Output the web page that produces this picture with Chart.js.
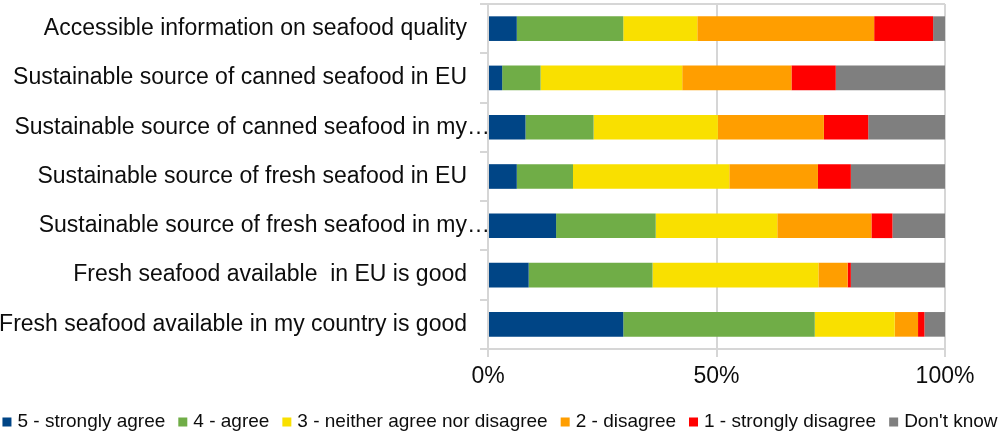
<!DOCTYPE html>
<html>
<head>
<meta charset="utf-8">
<script src="https://cdn.jsdelivr.net/npm/chart.js@4/dist/chart.umd.min.js"></script>
<style>
  html, body { margin: 0; padding: 0; background: #fff; }
  #wrap { width: 1000px; height: 441px; position: relative; }
</style>
</head>
<body>
<div id="wrap"><canvas id="c"></canvas></div>
<script>
// Survey statements (top to bottom)
const categories = [
  'Accessible information on seafood quality',
  'Sustainable source of canned seafood in EU',
  'Sustainable source of canned seafood in my…',
  'Sustainable source of fresh seafood in EU',
  'Sustainable source of fresh seafood in my…',
  'Fresh seafood available  in EU is good',
  'Fresh seafood available in my country is good'
];

// Share of answers per statement, in percent
const stronglyAgree    = [6.3, 3.1, 8.2, 6.3, 14.9, 8.9, 29.6];
const agree            = [23.3, 8.4, 14.9, 12.3, 21.8, 27.1, 41.9];
const neither          = [16.2, 31.0, 27.2, 34.2, 26.6, 36.3, 17.5];
const disagree         = [38.7, 23.9, 23.2, 19.4, 20.6, 6.4, 5.1];
const stronglyDisagree = [12.9, 9.7, 9.7, 7.2, 4.6, 0.7, 1.4];
const dontKnow         = [2.6, 23.9, 16.8, 20.6, 11.5, 20.6, 4.5];

const seriesNames = [
  '5 - strongly agree',
  '4 - agree',
  '3 - neither agree nor disagree',
  '2 - disagree',
  '1 - strongly disagree',
  "Don't know"
];
const xTicks = [0, 50, 100];

const colors = ['#004586', '#70ad47', '#f9e000', '#ff9e00', '#ff0000', '#7f7f7f'];
const seriesValues = [stronglyAgree, agree, neither, disagree, stronglyDisagree, dontKnow];

const FONT = '"Liberation Sans", Arial, sans-serif';
const TEXT = '#0d0d0d';
const GRID = '#d6d6d6';

// Draws the trailing ellipsis of shortened category labels past the label edge
const ellipsisPlugin = {
  id: 'labelEllipsis',
  afterDraw(chart) {
    const y = chart.scales.y;
    const ctx = chart.ctx;
    ctx.save();
    ctx.font = '23px ' + FONT;
    ctx.fillStyle = TEXT;
    ctx.textAlign = 'left';
    ctx.textBaseline = 'middle';
    categories.forEach((c, i) => {
      if (c.endsWith('…')) {
        ctx.fillText('…', y.right - 21, y.getPixelForTick(i));
      }
    });
    ctx.restore();
  }
};

// Compact single-row legend along the bottom edge
const bottomLegend = {
  id: 'bottomLegend',
  afterDraw(chart) {
    const ctx = chart.ctx;
    const box = 9, textGap = 15, itemGap = 13, cy = 422;
    ctx.save();
    ctx.font = '19px ' + FONT;
    ctx.textBaseline = 'middle';
    ctx.textAlign = 'left';
    const items = chart.data.datasets.map(ds => ({
      text: ds.label, color: ds.backgroundColor, w: ctx.measureText(ds.label).width
    }));
    const total = items.reduce((s, it) => s + textGap + it.w, 0) + itemGap * (items.length - 1);
    let x = (chart.width - total) / 2;
    items.forEach(it => {
      ctx.fillStyle = it.color;
      ctx.fillRect(x, cy - box / 2, box, box);
      ctx.fillStyle = TEXT;
      ctx.fillText(it.text, x + textGap, cy);
      x += textGap + it.w + itemGap;
    });
    ctx.restore();
  }
};

new Chart(document.getElementById('c'), {
  type: 'bar',
  data: {
    labels: categories,
    datasets: seriesNames.map((name, k) => ({
      label: name,
      data: seriesValues[k],
      backgroundColor: colors[k],
      borderWidth: 0,
      barPercentage: 0.5,
      categoryPercentage: 1.0
    }))
  },
  options: {
    indexAxis: 'y',
    responsive: true,
    maintainAspectRatio: false,
    animation: false,
    layout: { padding: { top: 4, left: 0, right: 0, bottom: 36 } },
    plugins: {
      tooltip: { enabled: false },
      legend: { display: false }
    },
    scales: {
      x: {
        stacked: true,
        min: 0,
        max: 100,
        afterBuildTicks: s => { s.ticks = xTicks.map(v => ({ value: v })); },
        ticks: {
          callback: v => v + '%',
          color: TEXT,
          padding: 6,
          maxRotation: 0,
          font: { family: FONT, size: 23 }
        },
        grid: { color: GRID, lineWidth: 2, tickLength: 8, tickColor: GRID },
        border: { color: GRID, width: 2 },
        afterFit: s => { s.height = 56; }
      },
      y: {
        stacked: true,
        ticks: {
          callback: function (v) { return this.getLabelForValue(v).replace(/…$/, ''); },
          color: TEXT,
          padding: 13,
          font: { family: FONT, size: 23 }
        },
        grid: {
          offset: true,
          color: ctx => (ctx.type === 'scale' || ctx.index === 0) ? GRID : 'rgba(0,0,0,0)',
          tickColor: GRID,
          lineWidth: 2,
          tickLength: 8
        },
        border: { color: GRID, width: 2 },
        afterFit: s => { s.width = 488; s.paddingTop = 0; s.paddingBottom = 0; }
      },
      yRight: {
        position: 'right',
        type: 'linear',
        display: true,
        grid: { display: false },
        ticks: { display: false },
        border: { display: false },
        afterFit: s => { s.width = 55; }
      }
    }
  },
  plugins: [ellipsisPlugin, bottomLegend]
});
</script>
</body>
</html>
